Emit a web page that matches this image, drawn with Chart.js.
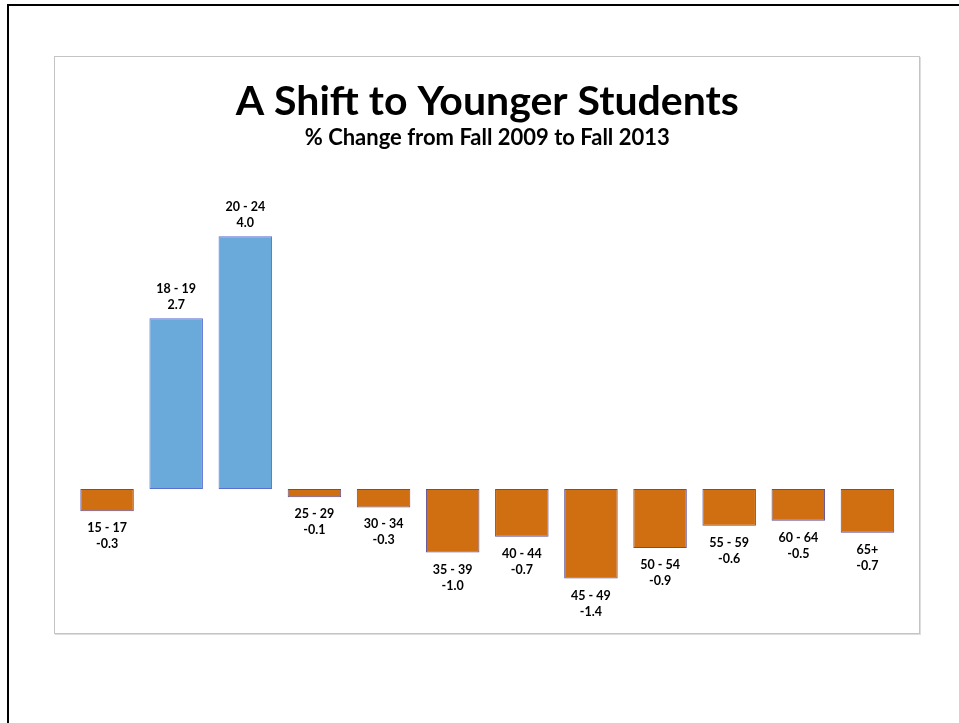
<!DOCTYPE html>
<html lang="en">
<head>
    <meta charset="UTF-8">
    <title>A Shift to Younger Students</title>
    <script src="https://cdn.jsdelivr.net/npm/chart.js"></script>
    <style>
        body { margin: 0; background: #fff; }
        #page { position: relative; width: 959px; height: 723px; overflow: hidden; }
        #outer { position: absolute; left: 7px; top: 4px; width: 1000px; height: 800px;
                 border-top: 2px solid #000; border-left: 2px solid #000; }
        #box { position: absolute; left: 54px; top: 56px; width: 864px; height: 576px;
               border: 1px solid #c4c4c4; box-shadow: 1px 1px 0 #dedede; }
        #chart { position: absolute; left: 0; top: 0; }
    </style>
</head>
<body>
<div id="page">
    <div id="outer"></div>
    <div id="box"></div>
    <canvas id="chart" width="959" height="723"></canvas>
</div>
<script>
    // age groups
    const ageGroups = ['15 - 17', '18 - 19', '20 - 24', '25 - 29', '30 - 34', '35 - 39',
                       '40 - 44', '45 - 49', '50 - 54', '55 - 59', '60 - 64', '65+'];
    // bar heights
    const pctChange = [-0.35, 2.69, 3.98, -0.13, -0.29, -1.0, -0.75, -1.41, -0.93, -0.58, -0.5, -0.69];
    // values printed on the labels
    const pctLabels = ['-0.3', '2.7', '4.0', '-0.1', '-0.3', '-1.0', '-0.7', '-1.4', '-0.9', '-0.6', '-0.5', '-0.7'];

    const FONT = 'Lato, "Open Sans", sans-serif';

    const barLabels = {
        id: 'barLabels',
        afterDatasetsDraw(chart) {
            const ctx = chart.ctx;
            const meta = chart.getDatasetMeta(0);
            ctx.save();
            ctx.font = 'bold 12.5px ' + FONT;
            ctx.fillStyle = '#000';
            ctx.textAlign = 'center';
            ctx.textBaseline = 'middle';
            meta.data.forEach((bar, i) => {
                if (pctChange[i] >= 0) {
                    ctx.fillText(ageGroups[i], bar.x, bar.y - 29);
                    ctx.fillText(pctLabels[i], bar.x, bar.y - 13);
                } else {
                    ctx.fillText(ageGroups[i], bar.x, bar.y + 17);
                    ctx.fillText(pctLabels[i], bar.x, bar.y + 33);
                }
            });
            ctx.restore();
        }
    };

    new Chart(document.getElementById('chart').getContext('2d'), {
        type: 'bar',
        data: {
            labels: ageGroups,
            datasets: [{
                data: pctChange,
                backgroundColor: c => c.raw >= 0 ? '#6aaadb' : '#d06f12',
                borderColor: c => c.raw >= 0 ? '#5a6fd0' : '#5a4f9a',
                borderWidth: 1,
                borderSkipped: false,
                categoryPercentage: 1.0,
                barPercentage: 0.774
            }]
        },
        options: {
            responsive: false,
            animation: false,
            layout: { padding: { left: 72.5, right: 57, top: 0, bottom: 138.75 } },
            plugins: {
                legend: { display: false },
                tooltip: { enabled: false },
                title: {
                    display: true,
                    text: 'A Shift to Younger Students',
                    color: '#000',
                    font: { family: FONT, size: 41, weight: 'bold', lineHeight: 1.0 },
                    padding: { top: 81.5, bottom: 0 }
                },
                subtitle: {
                    display: true,
                    text: '% Change from Fall 2009 to Fall 2013',
                    color: '#000',
                    font: { family: FONT, size: 22, weight: 'bold', lineHeight: 1.0 },
                    padding: { top: 4.5, bottom: 54.25 }
                }
            },
            scales: {
                x: { display: false },
                y: { display: false, min: -1.5, max: 4.5 }
            }
        },
        plugins: [barLabels]
    });
</script>
</body>
</html>
